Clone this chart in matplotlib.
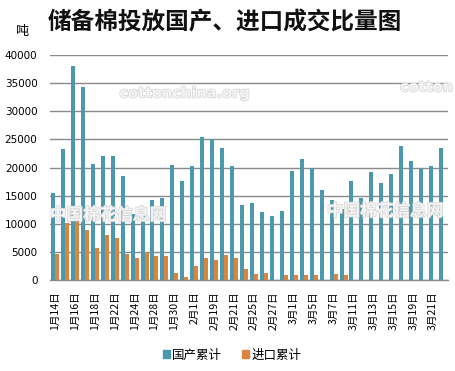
import matplotlib
matplotlib.use("Agg")
import matplotlib.pyplot as plt
from matplotlib.patches import Rectangle
import matplotlib.patheffects as pe
import numpy as np

plt.rcParams['font.family'] = ['Noto Sans CJK SC', 'DejaVu Sans']

dates = ["1月14日", "1月15日", "1月16日", "1月17日", "1月18日",
         "1月21日", "1月22日", "1月23日", "1月24日", "1月25日",
         "1月28日", "1月29日", "1月30日", "1月31日", "2月1日",
         "2月18日", "2月19日", "2月20日", "2月21日", "2月22日",
         "2月25日", "2月26日", "2月27日", "2月28日", "3月1日",
         "3月4日", "3月5日", "3月6日", "3月7日", "3月8日",
         "3月11日", "3月12日", "3月13日", "3月14日", "3月15日",
         "3月18日", "3月19日", "3月20日", "3月21日", "3月22日"]

domestic = [15500, 23200, 38000, 34300, 20600, 22000, 22000, 18500, 11800, 12800,
            14200, 14500, 20500, 17600, 20300, 25400, 25000, 23500, 20300, 13300,
            13700, 12100, 11400, 12300, 19400, 21500, 20000, 16000, 14200, 12600,
            17600, 14600, 19200, 17300, 18900, 23800, 21200, 19800, 20300, 23500]

imported = [4600, 10200, 12800, 8900, 5700, 8000, 7500, 4600, 3900, 5000,
            4300, 4200, 1300, 500, 2500, 3900, 3600, 4400, 3900, 2000,
            1100, 1200, 0, 900, 900, 900, 900, 0, 1100, 900,
            0, 0, 0, 0, 0, 0, 0, 0, 0, 0]

yticks = [0, 5000, 10000, 15000, 20000, 25000, 30000, 35000, 40000]

c_dom = "#4A99AE"
c_imp = "#D9853F"

fig = plt.figure(figsize=(4.56, 3.71), dpi=100)
fig.patch.set_facecolor("white")
ax = fig.add_axes([50 / 456, 91 / 371, 398 / 456, 225 / 371])
ax.set_facecolor("none")

x = np.arange(len(dates))
ax.bar(x - 0.2, domestic, width=0.4, color=c_dom, zorder=3)
ax.bar(x + 0.2, imported, width=0.4, color=c_imp, zorder=3)

ax.set_xlim(-0.5, len(dates) - 0.5)
ax.set_ylim(0, 40000)
ax.set_yticks(yticks)
ax.set_yticklabels([str(v) for v in yticks], fontsize=7.5, family=['DejaVu Sans'])
ax.yaxis.grid(True, color="#8a8a8a", linewidth=1.0, zorder=0)
ax.set_axisbelow(True)

ax.set_xticks(x[::2])
ax.set_xticklabels(dates[::2], rotation=90, fontsize=7.6)
ax.tick_params(axis="both", length=0)
ax.tick_params(axis="x", pad=8)
ax.tick_params(axis="y", pad=9)
for s in ["top", "right", "left"]:
    ax.spines[s].set_visible(False)
ax.spines["bottom"].set_color("#8a8a8a")
ax.spines["bottom"].set_linewidth(1.0)

# watermarks
wm = dict(color="#f4f4f4", fontweight="bold", zorder=1,
          path_effects=[pe.withStroke(linewidth=1.0, foreground="#d4d4d4")])
fig.text(185 / 456, 1 - 93 / 371, "cottonchina.org", fontsize=10.5, ha="center", va="center",
         family=['DejaVu Sans'], **wm)
fig.text(400 / 456, 1 - 87 / 371, "cotton", fontsize=10.5, ha="left", va="center",
         family=['DejaVu Sans'], **wm)
fig.text(108 / 456, 1 - 215 / 371, "中国棉花信息网", fontsize=12, ha="center", va="center", **wm)
fig.text(385 / 456, 1 - 211 / 371, "中国棉花信息网", fontsize=12, ha="center", va="center", **wm)

# title and unit
fig.text(48 / 456, 1 - 22 / 371, "储备棉投放国产、进口成交比量图", fontsize=17, fontweight="bold",
         ha="left", va="center", color="#111111")
fig.text(22 / 456, 1 - 32 / 371, "吨", fontsize=9.5, ha="center", va="center")

handles = [Rectangle((0, 0), 1, 1, color=c_dom), Rectangle((0, 0), 1, 1, color=c_imp)]
fig.legend(handles, ["国产累计", "进口累计"], loc="center", bbox_to_anchor=(232 / 456, 1 - 355 / 371),
           ncol=2, frameon=False, fontsize=9, handlelength=0.6, handleheight=0.6,
           handletextpad=0.15, columnspacing=1.6)

fig.savefig("out.png", dpi=100, facecolor="white")
